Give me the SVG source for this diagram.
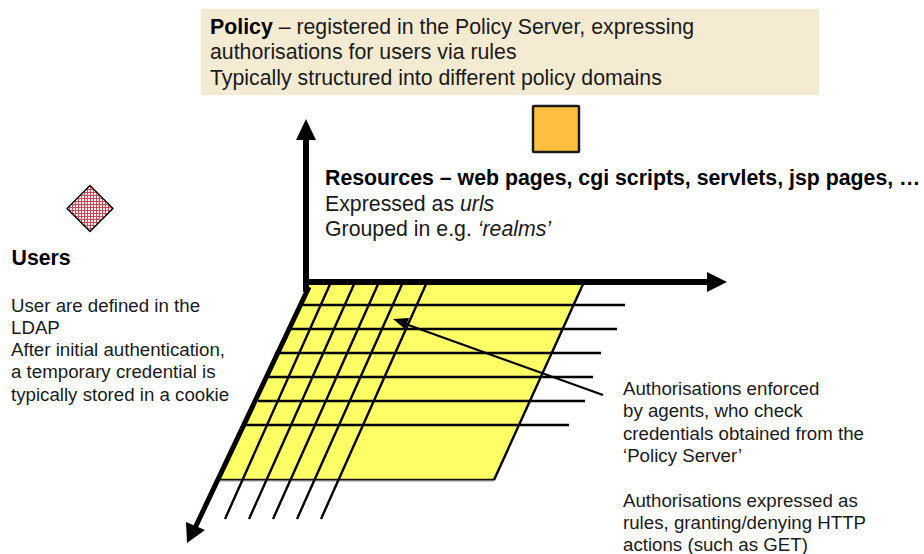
<svg xmlns="http://www.w3.org/2000/svg" width="924" height="554" viewBox="0 0 924 554">
<style>
text{font-family:"Liberation Sans",Arial,sans-serif;fill:#1a1a1a}
.h{font-size:21.3px}.s{font-size:18.7px}
.b{font-weight:bold;fill:#000}
.g{stroke:#000;stroke-width:2.4;fill:none}
.a{stroke:#000;stroke-width:6;fill:none}
.d{stroke:#000;stroke-width:5;fill:none}
</style>
<defs>
<pattern id="check" width="3" height="3" patternUnits="userSpaceOnUse">
<rect width="3" height="3" fill="#f8eef0"/>
<rect width="1" height="3" fill="#c44a58"/>
<rect width="3" height="1" fill="#c44a58"/>
</pattern>
</defs>
<rect width="924" height="554" fill="#fff"/>
<g id="policy">
<rect x="201" y="9" width="618" height="86" fill="#f5ebd2"/>
<text class="h" x="210" y="33.500"><tspan class="b">Policy</tspan> – registered in the Policy Server, expressing</text>
<text class="h" x="210" y="59">authorisations for users via rules</text>
<text class="h" x="210" y="84.500">Typically structured into different policy domains</text>
</g>
<g id="resource-icon"><rect x="533" y="106" width="46" height="46" fill="#ffc040" stroke="#1a1a1a" stroke-width="2.5" rx="1"/></g>
<g id="user-icon"><polygon points="90,185.500 113,208.500 90,231.500 67,208.500" fill="url(#check)" stroke="#000" stroke-width="1.3"/></g>
<g id="grid">
<polygon points="308,282 584,282 494,480 220,480" fill="#ffff66"/>
<line x1="220" y1="480.500" x2="494" y2="480.500" stroke="#999" stroke-width="2"/>
<line x1="220" y1="479.500" x2="495" y2="479.500" stroke="#111" stroke-width="1.4"/>
<line x1="584" y1="282" x2="494" y2="480" class="g"/>
</g>
<g id="connectors">
<path class="g" d="M303 305H625M290 329H617M275 353H601M269 377H593M258 401H585M245 425H569"/>
<path class="g" d="M331 282L225 519M355 282L249 519M379 282L273 519M403 282L297 519M427 282L321 519"/>
<path class="a" d="M306 292V138M303 282H709"/>
<path class="d" d="M309 287L195 528"/>
<polygon points="306,119 296,140 316,140"/>
<polygon points="727,282 707,272 707,292"/>
<polygon points="187,543 186,522 205,530"/>
<line x1="603" y1="395" x2="400" y2="322" stroke="#000" stroke-width="2.2"/>
<polygon points="393,319 409,318 405,329"/>
</g>
<g id="resources">
<text class="h b" x="325" y="184.500">Resources – web pages, cgi scripts, servlets, jsp pages, …</text>
<text class="h" x="325" y="210.500">Expressed as <tspan font-style="italic">urls</tspan></text>
<text class="h" x="325" y="236">Grouped in e.g. <tspan font-style="italic">‘realms’</tspan></text>
</g>
<g id="users">
<text class="h b" x="11.500" y="265">Users</text>
<text class="s" x="11" y="311.500">User are defined in the</text>
<text class="s" x="11" y="333.500">LDAP</text>
<text class="s" x="11" y="356">After initial authentication,</text>
<text class="s" x="11" y="378">a temporary credential is</text>
<text class="s" x="11" y="400.500">typically stored in a cookie</text>
</g>
<g id="notes">
<text class="s" x="623" y="395">Authorisations enforced</text>
<text class="s" x="623" y="417">by agents, who check</text>
<text class="s" x="623" y="440">credentials obtained from the</text>
<text class="s" x="623" y="462">‘Policy Server’</text>
<text class="s" x="623" y="507">Authorisations expressed as</text>
<text class="s" x="623" y="529">rules, granting/denying HTTP</text>
<text class="s" x="623" y="551">actions (such as GET)</text>
</g>
</svg>
